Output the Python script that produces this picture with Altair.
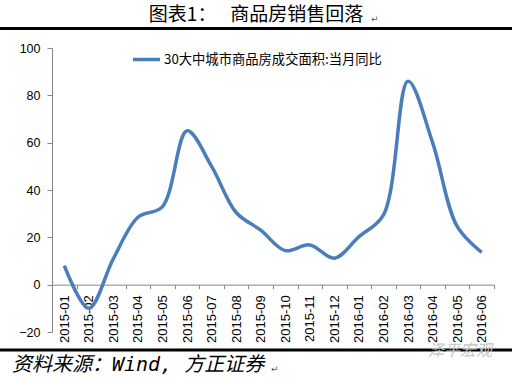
import altair as alt
import pandas as pd

months = ["2015-01", "2015-02", "2015-03", "2015-04", "2015-05", "2015-06",
          "2015-07", "2015-08", "2015-09", "2015-10", "2015-11", "2015-12",
          "2016-01", "2016-02", "2016-03", "2016-04", "2016-05", "2016-06"]
values = [8, -10, 11, 28.5, 33, 65, 50, 30.5, 23, 14.4, 16.8, 11.2,
          20.3, 29.5, 86, 60, 24.6, 13.6]
series_name = "30大中城市商品房成交面积:当月同比"
title_text = "图表1：\u3000\u00a0商品房销售回落"
source_text = "资料来源：Wind, 方正证券"
watermark_text = "泽平宏观"

df = pd.DataFrame({"month": months, "value": values, "series": [series_name] * len(months)})

W, H = 442, 284
CJK = "Noto Sans CJK SC"

line = alt.Chart(df).mark_line(
    interpolate="catmull-rom", strokeWidth=3.5, clip=False
).encode(
    x=alt.X("month:N", sort=months, title=None,
            scale=alt.Scale(paddingInner=0, paddingOuter=0),
            axis=alt.Axis(labelAngle=-90, labelFont="Liberation Sans", labelFontSize=13,
                          labelColor="black", labelPadding=6, tickSize=4,
                          tickBand="extent", domainColor="#868686", tickColor="#868686",
                          offset=-47.33, grid=False)),
    y=alt.Y("value:Q", title=None,
            scale=alt.Scale(domain=[-20, 100], nice=False, zero=False),
            axis=alt.Axis(values=[-20, 0, 20, 40, 60, 80, 100], labelFont="Liberation Sans",
                          labelFontSize=12.5, labelColor="black", labelPadding=7, tickSize=5,
                          domainColor="#868686", tickColor="#868686", grid=False)),
    color=alt.Color("series:N", scale=alt.Scale(range=["#4A7EBB"]),
                    legend=alt.Legend(title=None, orient="none", legendX=79, legendY=-4,
                                      symbolType="stroke", symbolSize=729,
                                      symbolStrokeWidth=3.5, labelFont=CJK,
                                      labelFontSize=13.3, labelColor="black",
                                      labelLimit=400, labelOffset=2, padding=0))
)

def text_layer(txt, x, y, size, color="black", font=CJK, style="normal", align="left", weight="normal"):
    return alt.Chart(pd.DataFrame({"t": [txt]})).mark_text(
        align=align, baseline="middle", fontSize=size, font=font, fontStyle=style,
        color=color, fontWeight=weight
    ).encode(text="t:N", x=alt.value(x), y=alt.value(y))

title = text_layer(title_text, 256 - 52, 15 - 48, 19, align="center")
title_ret = text_layer("↵", 371 - 52, 19 - 48, 9, color="#555555", font="DejaVu Sans")
source = text_layer(source_text, 12 - 52, 365 - 48, 20, font="DejaVu Sans Mono, " + CJK, style="italic")
source_ret = text_layer("↵", 271 - 52, 369 - 48, 9, color="#555555", font="DejaVu Sans")
watermark = text_layer(watermark_text, 428 - 52, 351 - 48, 16, color="#c4c4c4", style="italic")

top_rule = alt.Chart(pd.DataFrame({"a": [0]})).mark_rule(color="black", strokeWidth=3).encode(
    x=alt.value(-52), x2=alt.value(460), y=alt.value(28.5 - 48))
bottom_rule = alt.Chart(pd.DataFrame({"a": [0]})).mark_rule(color="black", strokeWidth=3).encode(
    x=alt.value(-52), x2=alt.value(460), y=alt.value(350 - 48))

chart = alt.layer(top_rule, bottom_rule, line, title, title_ret, source, source_ret, watermark).properties(
    width=W, height=H,
    padding={"left": 52, "top": 48, "right": 18, "bottom": 45},
    autosize=alt.AutoSizeParams(type="none"),
    background="white"
).configure_view(stroke=None)

chart.save("out.html", embed_options={"renderer": "svg", "actions": False})
